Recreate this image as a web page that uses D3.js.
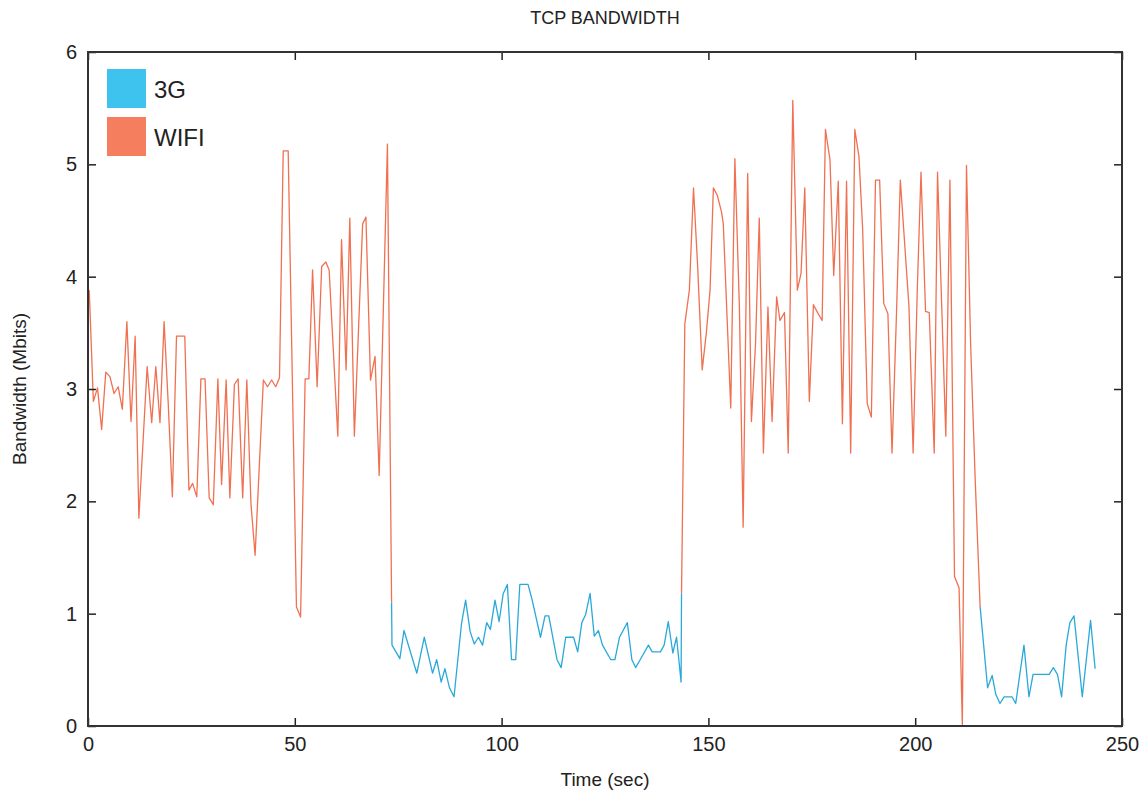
<!DOCTYPE html>
<html>
<head>
<meta charset="utf-8">
<script src="https://cdn.jsdelivr.net/npm/d3@7"></script>
<style>
  body { margin: 0; background: #fff; }
  svg text { font-family: "Liberation Sans", Arial, sans-serif; fill: #222; }
</style>
</head>
<body>
<div id="chart"></div>
<script>
var w = 1146, h = 796;
var mLeft = 88, mRight = 1122, mTop = 52, mBottom = 726;

// Time (sec) and bandwidth (Mbits), one array pair per stretch
var wifi1Time = [0.3, 1.3, 2.3, 3.3, 4.3, 5.3, 6.3, 7.3, 8.3, 9.4, 10.4, 11.4, 12.3, 14.3, 15.4, 16.4, 17.4, 18.4, 19.4, 20.4, 21.4, 23.4, 24.4, 25.3, 26.3, 27.3, 28.3, 29.3, 30.3, 31.4, 32.3, 33.4, 34.3, 35.4, 36.3, 37.4, 38.4, 39.4, 40.4, 42.4, 43.4, 44.4, 45.4, 46.3, 47.2, 48.4, 50.4, 51.4, 52.5, 53.4, 54.3, 55.4, 56.5, 57.5, 58.3, 60.4, 61.3, 62.4, 63.3, 64.4, 66.4, 67.2, 68.3, 69.4, 70.4, 72.4, 73.4];
var wifi1Bw = [3.88, 2.89, 3.01, 2.64, 3.15, 3.11, 2.96, 3.02, 2.82, 3.60, 2.71, 3.47, 1.85, 3.20, 2.70, 3.20, 2.70, 3.60, 2.87, 2.04, 3.47, 3.47, 2.10, 2.16, 2.04, 3.09, 3.09, 2.03, 1.97, 3.09, 2.15, 3.08, 2.03, 3.04, 3.09, 2.03, 3.08, 1.98, 1.52, 3.08, 3.02, 3.08, 3.02, 3.10, 5.12, 5.12, 1.06, 0.97, 3.09, 3.09, 4.06, 3.02, 4.09, 4.13, 4.06, 2.58, 4.33, 3.17, 4.52, 2.58, 4.47, 4.53, 3.08, 3.29, 2.23, 5.18, 1.10];

var g1Time = [73.4, 73.5, 75.4, 76.4, 79.5, 81.3, 83.3, 84.3, 85.4, 86.3, 87.4, 88.5, 90.3, 91.3, 92.4, 93.4, 94.4, 95.4, 96.4, 97.3, 98.4, 99.4, 100.4, 101.4, 102.4, 103.4, 104.4, 106.4, 107.4, 109.4, 110.5, 111.4, 113.4, 114.4, 115.5, 117.4, 118.4, 119.4, 120.3, 121.4, 122.4, 123.4, 124.4, 126.4, 127.4, 128.5, 130.4, 131.5, 132.4, 133.5, 135.5, 136.4, 138.4, 139.3, 140.3, 141.4, 142.3, 143.4, 143.5];
var g1Bw = [1.10, 0.72, 0.60, 0.85, 0.47, 0.79, 0.47, 0.59, 0.39, 0.51, 0.34, 0.26, 0.91, 1.12, 0.84, 0.73, 0.79, 0.72, 0.92, 0.86, 1.12, 0.93, 1.18, 1.26, 0.59, 0.59, 1.26, 1.26, 1.12, 0.79, 0.98, 0.98, 0.59, 0.52, 0.79, 0.79, 0.66, 0.92, 0.99, 1.18, 0.80, 0.85, 0.72, 0.59, 0.59, 0.79, 0.92, 0.59, 0.52, 0.59, 0.72, 0.66, 0.66, 0.72, 0.93, 0.65, 0.79, 0.39, 1.18];

var wifi2Time = [143.5, 144.3, 145.4, 146.4, 147.4, 148.5, 149.5, 150.4, 151.2, 152.2, 153.2, 153.6, 155.4, 156.4, 157.5, 158.4, 159.5, 160.4, 161.4, 162.3, 163.3, 164.4, 165.4, 166.5, 167.3, 168.4, 169.3, 170.4, 171.5, 172.4, 173.3, 174.4, 175.4, 176.4, 177.5, 178.3, 179.4, 180.3, 181.4, 182.4, 183.4, 184.4, 185.4, 186.4, 187.3, 188.4, 189.4, 190.4, 191.4, 192.4, 193.4, 194.4, 195.5, 196.4, 197.5, 198.5, 199.5, 200.5, 201.4, 202.5, 203.4, 204.6, 205.4, 206.4, 207.4, 208.4, 209.5, 210.6, 211.4, 212.4, 213.4, 214.5, 215.7];
var wifi2Bw = [1.18, 3.58, 3.88, 4.79, 4.09, 3.17, 3.50, 3.88, 4.79, 4.72, 4.57, 4.47, 2.83, 5.05, 3.72, 1.77, 4.92, 2.71, 3.41, 4.52, 2.43, 3.73, 2.71, 3.82, 3.61, 3.68, 2.43, 5.57, 3.88, 4.03, 4.79, 2.89, 3.75, 3.68, 3.61, 5.31, 5.04, 4.01, 4.85, 2.69, 4.85, 2.43, 5.31, 5.07, 4.42, 2.87, 2.75, 4.86, 4.86, 3.76, 3.67, 2.43, 3.70, 4.86, 4.27, 3.73, 2.43, 3.88, 4.93, 3.69, 3.68, 2.43, 4.93, 3.75, 2.58, 4.86, 1.33, 1.23, 0.01, 4.99, 3.40, 2.20, 1.06];

var g2Time = [215.7, 217.5, 218.6, 219.5, 220.5, 221.5, 223.4, 224.3, 226.3, 227.5, 228.5, 232.4, 233.4, 234.4, 235.4, 236.5, 237.4, 238.4, 240.4, 242.4, 243.5];
var g2Bw = [1.06, 0.34, 0.45, 0.28, 0.20, 0.26, 0.26, 0.20, 0.72, 0.26, 0.46, 0.46, 0.52, 0.46, 0.26, 0.72, 0.92, 0.98, 0.26, 0.94, 0.51];

var xTicks = [0, 50, 100, 150, 200, 250];
var yTicks = [0, 1, 2, 3, 4, 5, 6];
var legendNames = ["3G", "WIFI"];
var legendColors = ["#3ec3ef", "#f47e5e"];

var colorWifi = "#f07052", colorG = "#2aa9d9";

var xScale = d3.scaleLinear().domain([0, 250]).range([mLeft, mRight]);
var yScale = d3.scaleLinear().domain([0, 6]).range([mBottom, mTop]);

var svg = d3.select("#chart").append("svg")
  .attr("width", w)
  .attr("height", h);

// Title
svg.append("text")
  .attr("x", (mLeft + mRight) / 2)
  .attr("y", 24)
  .attr("text-anchor", "middle")
  .style("font-size", "18px")
  .text("TCP BANDWIDTH");

function zip(ts, vs) {
  return ts.map(function(t, i) { return [t, vs[i]]; });
}

var line = d3.line()
  .x(function(d) { return xScale(d[0]); })
  .y(function(d) { return yScale(d[1]); });

var segments = [
  { data: zip(wifi1Time, wifi1Bw), color: colorWifi },
  { data: zip(g1Time, g1Bw), color: colorG },
  { data: zip(wifi2Time, wifi2Bw), color: colorWifi },
  { data: zip(g2Time, g2Bw), color: colorG }
];

svg.append("g")
  .selectAll("path")
  .data(segments)
  .enter()
  .append("path")
  .attr("d", function(d) { return line(d.data); })
  .attr("fill", "none")
  .attr("stroke", function(d) { return d.color; })
  .attr("stroke-width", 1.3)
  .attr("stroke-linejoin", "round");

// Axes with inward ticks on all four sides
var xAxis = d3.axisBottom(xScale).tickValues(xTicks).tickSize(-8).tickPadding(11)
  .tickFormat(d3.format("d"));
var yAxis = d3.axisLeft(yScale).tickValues(yTicks).tickSize(-8).tickPadding(11)
  .tickFormat(d3.format("d"));

function styleAxis(g) {
  g.select(".domain").remove();
  g.selectAll(".tick line").attr("stroke", "#222").attr("stroke-width", 1.5);
  g.selectAll(".tick text").style("font-size", "20px").attr("fill", "#222")
    .style("font-family", "'Liberation Sans', Arial, sans-serif");
}

svg.append("g")
  .attr("transform", "translate(0," + mBottom + ")")
  .call(xAxis).call(styleAxis);

svg.append("g")
  .attr("transform", "translate(0," + mTop + ")")
  .call(d3.axisTop(xScale).tickValues(xTicks).tickSize(-8).tickFormat(""))
  .call(styleAxis);

svg.append("g")
  .attr("transform", "translate(" + mLeft + ",0)")
  .call(yAxis).call(styleAxis);

svg.append("g")
  .attr("transform", "translate(" + mRight + ",0)")
  .call(d3.axisRight(yScale).tickValues(yTicks).tickSize(-8).tickFormat(""))
  .call(styleAxis);

// Frame
svg.append("rect")
  .attr("x", mLeft)
  .attr("y", mTop)
  .attr("width", mRight - mLeft)
  .attr("height", mBottom - mTop)
  .attr("fill", "none")
  .attr("stroke", "#333")
  .attr("stroke-width", 2);

// Axis labels
svg.append("text")
  .attr("x", (mLeft + mRight) / 2)
  .attr("y", 786)
  .attr("text-anchor", "middle")
  .style("font-size", "19px")
  .text("Time (sec)");

svg.append("text")
  .attr("transform", "translate(26," + ((mTop + mBottom) / 2) + ") rotate(-90)")
  .attr("text-anchor", "middle")
  .style("font-size", "19px")
  .text("Bandwidth (Mbits)");

// Legend
var legend = svg.append("g")
  .selectAll("g")
  .data(legendNames)
  .enter()
  .append("g")
  .attr("transform", function(d, i) { return "translate(107," + (69 + i * 48) + ")"; });

legend.append("rect")
  .attr("width", 39)
  .attr("height", 39)
  .attr("fill", function(d, i) { return legendColors[i]; });

legend.append("text")
  .attr("x", 47)
  .attr("y", 29)
  .style("font-size", "24px")
  .text(function(d) { return d; });
</script>
</body>
</html>
